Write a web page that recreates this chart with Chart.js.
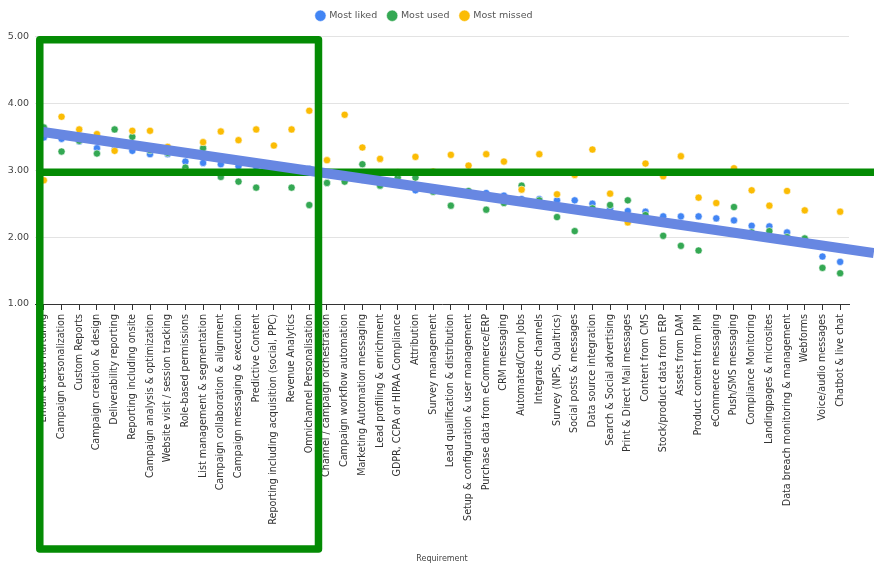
<!DOCTYPE html>
<html>
<head>
<meta charset="utf-8">
<script src="https://cdn.jsdelivr.net/npm/chart.js@4/dist/chart.umd.min.js"></script>
<style>
  body { margin: 0; background: #fff; }
  #wrap { width: 874px; height: 564px; }
</style>
</head>
<body>
<div id="wrap"><canvas id="chart"></canvas></div>
<script>
const categories = [
  'Email & lead nurturing', 'Campaign personalization', 'Custom Reports', 'Campaign creation & design',
  'Deliverability reporting', 'Reporting including onsite', 'Campaign analysis & optimization',
  'Website visit / session tracking', 'Role-based permissions', 'List management & segmentation',
  'Campaign collaboration & alignment', 'Campaign messaging & execution', 'Predictive Content',
  'Reporting including acquisition (social, PPC)', 'Revenue Analytics', 'Omnichannel Personalisation',
  'Channel / campaign orchestration', 'Campaign workflow automation', 'Marketing Automation messaging',
  'Lead profiling & enrichment', 'GDPR, CCPA or HIPAA Compliance', 'Attribution', 'Survey management',
  'Lead qualification & distribution', 'Setup & configuration & user management',
  'Purchase data from eCommerce/ERP', 'CRM messaging', 'Automated/Cron Jobs', 'Integrate channels',
  'Survey (NPS, Qualtrics)', 'Social posts & messages', 'Data source integration',
  'Search & Social advertising', 'Print & Direct Mail messages', 'Content from CMS',
  'Stock/product data from ERP', 'Assets from DAM', 'Product content from PIM', 'eCommerce messaging',
  'Push/SMS messaging', 'Compliance Monitoring', 'Landingpages & microsites',
  'Data breach monitoring & management', 'Webforms', 'Voice/audio messages', 'Chatbot & live chat'
];

const mostLiked = [3.49, 3.47, 3.43, 3.33, 3.31, 3.29, 3.24, 3.24, 3.13, 3.11, 3.09, 3.06, 3.05, 3.03, 3.02, 3.02,
  2.96, 2.88, 2.86, 2.84, 2.83, 2.70, 2.70, 2.68, 2.67, 2.66, 2.62, 2.57, 2.57, 2.55, 2.55, 2.50,
  2.43, 2.39, 2.38, 2.31, 2.31, 2.31, 2.28, 2.25, 2.17, 2.16, 2.07, 1.95, 1.71, 1.63];
const mostUsed = [3.64, 3.28, 3.44, 3.25, 3.61, 3.50, 3.30, 3.26, 3.04, 3.33, 2.90, 2.83, 2.74, 3.00, 2.74, 2.48,
  2.81, 2.83, 3.09, 2.77, 2.89, 2.89, 2.68, 2.47, 2.69, 2.41, 2.51, 2.77, 2.55, 2.30, 2.09, 2.43,
  2.48, 2.55, 2.33, 2.02, 1.87, 1.80, 2.11, 2.45, 2.07, 2.09, 2.00, 1.98, 1.54, 1.46];
const mostMissed = [2.85, 3.80, 3.61, 3.54, 3.29, 3.59, 3.59, 3.35, 2.97, 3.42, 3.58, 3.45, 3.61, 3.37, 3.61, 3.89,
  3.15, 3.83, 3.34, 3.17, 2.97, 3.20, 2.98, 3.23, 3.07, 3.24, 3.13, 2.71, 3.24, 2.64, 2.93, 3.31,
  2.65, 2.22, 3.10, 2.91, 3.21, 2.59, 2.51, 3.03, 2.70, 2.47, 2.69, 2.40, 1.87, 2.38];

// hand-drawn highlights on top of the chart
const refLine = 2.97;
const trendIdx = [-0.33, 46.9];
const trendVal = [3.584, 1.763];
const boxIdx = [-0.23, 15.52];
const boxTop = 4.95;

const overlay = {
  id: 'overlay',
  afterDraw(chart) {
    const { ctx, scales: { x, y } } = chart;
    const bl = x.getPixelForValue(boxIdx[0]);
    const br = x.getPixelForValue(boxIdx[1]);
    ctx.save();
    ctx.lineCap = 'butt';
    // green reference line
    ctx.strokeStyle = '#048b04';
    ctx.lineWidth = 7.5;
    ctx.beginPath();
    ctx.moveTo(bl, y.getPixelForValue(refLine));
    ctx.lineTo(chart.width, y.getPixelForValue(refLine));
    ctx.stroke();
    // blue trend
    ctx.strokeStyle = '#6787e2';
    ctx.lineWidth = 10;
    ctx.beginPath();
    ctx.moveTo(x.getPixelForValue(trendIdx[0]), y.getPixelForValue(trendVal[0]));
    ctx.lineTo(x.getPixelForValue(trendIdx[1]), y.getPixelForValue(trendVal[1]));
    ctx.stroke();
    // green box
    ctx.strokeStyle = '#048b04';
    ctx.lineWidth = 7.5;
    ctx.lineJoin = 'round';
    const top = y.getPixelForValue(boxTop);
    ctx.strokeRect(bl, top, br - bl, chart.height - 15 - top);
    ctx.restore();
  }
};

// a bit more room under the legend
const legendGap = {
  id: 'legendGap',
  beforeInit(chart) {
    const fit = chart.legend.fit;
    chart.legend.fit = function () {
      fit.bind(chart.legend)();
      this.height += 6;
    };
  }
};

const dot = (label, values, color, order) => ({
  label: label,
  data: values,
  showLine: false,
  order: order,
  backgroundColor: color,
  borderColor: 'rgba(255,255,255,0.7)',
  borderWidth: 0.8,
  pointRadius: 3.6,
  pointHoverRadius: 4
});

new Chart(document.getElementById('chart'), {
  type: 'line',
  data: {
    labels: categories,
    datasets: [
      dot('Most liked', mostLiked, '#4285f4', 3),
      dot('Most used', mostUsed, '#34a853', 2),
      dot('Most missed', mostMissed, '#fbbc04', 1)
    ]
  },
  options: {
    responsive: true,
    maintainAspectRatio: false,
    animation: false,
    layout: { padding: { top: 0, right: 25, bottom: 0, left: 0 } },
    plugins: {
      tooltip: { enabled: false },
      legend: {
        labels: {
          usePointStyle: true,
          pointStyle: 'circle',
          boxWidth: 8,
          boxHeight: 8,
          padding: 11,
          color: '#555',
          font: { family: 'DejaVu Sans', size: 9.5 },
          sort: (a, b) => a.datasetIndex - b.datasetIndex
        }
      }
    },
    scales: {
      x: {
        offset: true,
        grid: { drawOnChartArea: false, color: '#333', tickLength: 6 },
        border: { color: '#333' },
        ticks: {
          autoSkip: false, minRotation: 90, maxRotation: 90, padding: 4,
          color: '#333', font: { family: 'DejaVu Sans', size: 9.6 }
        },
        title: { display: true, text: 'Requirement', color: '#444', padding: 0, font: { family: 'DejaVu Sans', size: 8 } },
        afterFit(s) { s.height = 260; }
      },
      y: {
        min: 1,
        max: 5,
        grid: { color: '#e3e3e3', drawTicks: false },
        border: { display: false },
        ticks: {
          stepSize: 1, padding: 6, color: '#444',
          font: { family: 'DejaVu Sans', size: 9.5 },
          callback: v => v.toFixed(2)
        },
        afterFit(s) { s.width = 35; }
      }
    }
  },
  plugins: [overlay, legendGap]
});
</script>
</body>
</html>
